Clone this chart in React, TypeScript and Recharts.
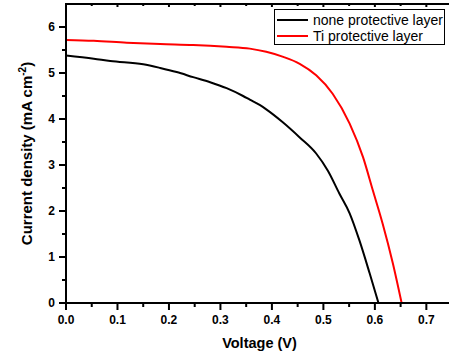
import { Line, LineChart, XAxis, YAxis } from "recharts";

// J-V curves
const noneVoltage = [0, 0.054, 0.086, 0.15, 0.183, 0.215, 0.247, 0.28, 0.312, 0.344, 0.357, 0.377, 0.389, 0.42, 0.454, 0.486, 0.509, 0.531, 0.551, 0.57, 0.59, 0.607];
const noneCurrent = [5.38, 5.31, 5.26, 5.19, 5.11, 5.02, 4.91, 4.8, 4.67, 4.5, 4.42, 4.3, 4.21, 3.94, 3.6, 3.25, 2.87, 2.38, 1.95, 1.36, 0.64, 0];

const tiVoltage = [0, 0.054, 0.118, 0.183, 0.247, 0.312, 0.357, 0.389, 0.422, 0.454, 0.486, 0.518, 0.551, 0.577, 0.596, 0.615, 0.635, 0.652];
const tiCurrent = [5.72, 5.7, 5.66, 5.63, 5.61, 5.57, 5.53, 5.46, 5.35, 5.2, 4.95, 4.55, 3.9, 3.17, 2.45, 1.73, 0.86, 0];

const xTicks = [0, 0.05, 0.1, 0.15, 0.2, 0.25, 0.3, 0.35, 0.4, 0.45, 0.5, 0.55, 0.6, 0.65, 0.7];
const yTicks = [0, 0.5, 1, 1.5, 2, 2.5, 3, 3.5, 4, 4.5, 5, 5.5, 6];

const seriesNames = ["none protective layer", "Ti protective layer"];
const seriesColors = ["#000000", "#ff0000"];

const noneData = noneVoltage.map((v, i) => ({ v, j: noneCurrent[i] }));
const tiData = tiVoltage.map((v, i) => ({ v, j: tiCurrent[i] }));

const FONT = "'Liberation Sans', Arial, sans-serif";
const Y_AXIS_W = 66;

const isMajorX = (v: number) => Math.round(v * 100) % 10 === 0;
const isMajorY = (v: number) => Math.round(v * 10) % 10 === 0;

function XTick(props: any) {
  const { x, y, payload } = props;
  const major = isMajorX(payload.value);
  return (
    <g>
      <rect x={x - 1} y={y} width={2} height={major ? 7 : 4} fill="#000" />
      {major && (
        <text x={x} y={y + 12} dy="0.71em" textAnchor="middle" fontFamily={FONT} fontSize={12} fontWeight="bold" fill="#000">
          {payload.value.toFixed(1)}
        </text>
      )}
    </g>
  );
}

function TopTick(props: any) {
  const { x, y, payload } = props;
  const major = isMajorX(payload.value);
  const h = major ? 4 : 3;
  return <rect x={x - 1} y={y - 1} width={2} height={h} fill="#000" />;
}

function YTick(props: any) {
  const { y, payload } = props;
  const x = Y_AXIS_W;
  const major = isMajorY(payload.value);
  const len = major ? 7 : 4;
  return (
    <g>
      <rect x={x - len} y={y - 1} width={len} height={2} fill="#000" />
      {major && (
        <text x={x - 11} y={y} dy="0.355em" textAnchor="end" fontFamily={FONT} fontSize={12} fontWeight="bold" fill="#000">
          {payload.value}
        </text>
      )}
    </g>
  );
}

function XTitle(props: any) {
  const vb = props.viewBox || { x: 0, y: 0, width: 0, height: 0 };
  return (
    <text x={vb.x + vb.width / 2 + 2} y={vb.y + 45} textAnchor="middle" fontFamily={FONT} fontSize={14.5} fontWeight="bold" fill="#000">
      Voltage (V)
    </text>
  );
}

function YTitle(props: any) {
  const vb = props.viewBox || { x: 0, y: 0, width: 0, height: 0 };
  const cx = vb.x + 32;
  const cy = vb.y + vb.height / 2;
  return (
    <text x={cx} y={cy} transform={`rotate(-90 ${cx} ${cy})`} textAnchor="middle" fontFamily={FONT} fontSize={15} fontWeight="bold" fill="#000">
      Current density (mA cm
      <tspan dy={-6} fontSize={10}>-2</tspan>
      <tspan dy={6}>)</tspan>
    </text>
  );
}

function LegendBox() {
  return (
    <div
      style={{
        position: "absolute",
        left: 274,
        top: 9,
        width: 169,
        height: 34,
        border: "1px solid #000",
        background: "#fff",
        fontFamily: FONT,
        fontSize: 14,
      }}
    >
      {seriesNames.map((name, i) => (
        <div key={name} style={{ position: "absolute", left: 2, top: 2 + i * 16, height: 16, display: "flex", alignItems: "center" }}>
          <span style={{ display: "inline-block", width: 31, height: 2, background: seriesColors[i] }} />
          <span style={{ marginLeft: 5, lineHeight: "16px", whiteSpace: "nowrap" }}>{name}</span>
        </div>
      ))}
    </div>
  );
}

const axisLineStyle = { stroke: "#000000", strokeWidth: 2 };

export default function App() {
  return (
    <div style={{ position: "absolute", left: 0, top: 0, width: 449, height: 357, background: "#fff" }}>
      <LineChart width={449} height={357} margin={{ top: 3, right: 0, bottom: 0, left: 0 }}>
        <XAxis
          xAxisId="bottom"
          dataKey="v"
          type="number"
          domain={[0, 0.744]}
          ticks={xTicks}
          interval={0}
          allowDataOverflow
          height={54}
          tickLine={false}
          tickSize={0}
          tickMargin={0}
          axisLine={axisLineStyle}
          tick={<XTick />}
          label={<XTitle />}
        />
        <XAxis
          xAxisId="top"
          orientation="top"
          dataKey="v"
          type="number"
          domain={[0, 0.744]}
          ticks={xTicks}
          interval={0}
          allowDataOverflow
          height={1}
          tickLine={false}
          tickSize={0}
          tickMargin={0}
          axisLine={axisLineStyle}
          tick={<TopTick />}
        />
        <YAxis
          yAxisId="left"
          type="number"
          domain={[0, 6.5]}
          ticks={yTicks}
          interval={0}
          allowDataOverflow
          width={Y_AXIS_W}
          tickLine={false}
          tickSize={0}
          tickMargin={0}
          axisLine={axisLineStyle}
          tick={<YTick />}
          label={<YTitle />}
        />
        <Line xAxisId="bottom" yAxisId="left" data={noneData} dataKey="j" name={seriesNames[0]} type="monotone" stroke={seriesColors[0]} strokeWidth={2} dot={false} isAnimationActive={false} />
        <Line xAxisId="bottom" yAxisId="left" data={tiData} dataKey="j" name={seriesNames[1]} type="monotone" stroke={seriesColors[1]} strokeWidth={2} dot={false} isAnimationActive={false} />
      </LineChart>
      <LegendBox />
    </div>
  );
}
